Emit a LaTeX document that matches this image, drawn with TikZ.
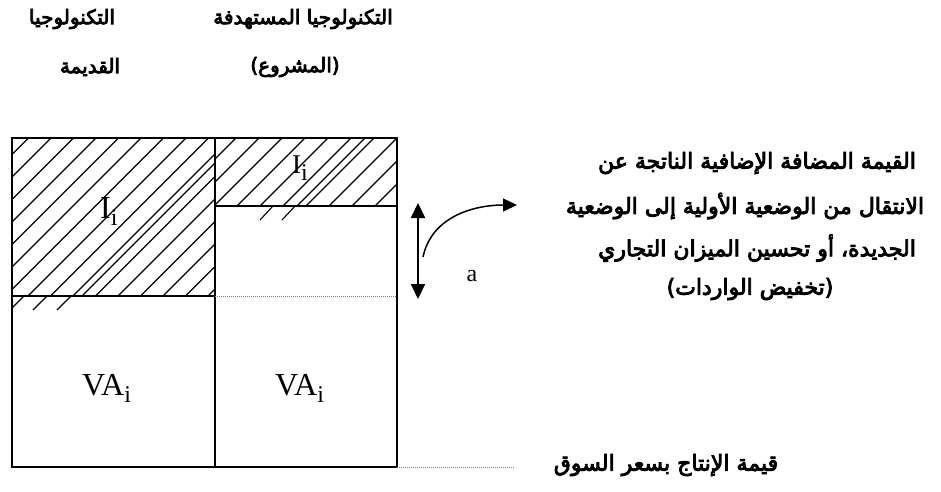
\documentclass[tikz,border=0pt]{standalone}
\usepackage{fontspec}
\usetikzlibrary{arrows.meta}
\TeXXeTstate=1
\newfontfamily\arabicfont[Script=Arabic,FakeBold=4]{DejaVu Sans}
\newfontfamily\latfont{Liberation Serif}
\tikzset{
  boxline/.style={line width=1.4pt},
  hatchline/.style={line width=1.1pt},
  dotline/.style={gray,line width=0.8pt,dash pattern=on 0.8pt off 1.2pt},
  ar/.style={inner sep=0pt,font=\arabicfont\fontsize{22}{26}\selectfont},
  arhead/.style={inner sep=0pt,font=\arabicfont\fontsize{20}{24}\selectfont},
  lat/.style={inner sep=0pt,font=\latfont\fontsize{32}{36}\selectfont},
}
\newcommand{\sub}[1]{\raisebox{-7pt}{\fontsize{24}{26}\selectfont #1}}
\begin{document}
\begin{tikzpicture}[x=1pt,y=-1pt]
\useasboundingbox (0,0) rectangle (941,491);
% hatching left column
\begin{scope}
\clip (12,138) rectangle (215,296);
\foreach \c in {166.5,189,...,520} \draw[hatchline] (\c-138,138) -- (\c-296,296);
\draw[hatchline] (378-138,138) -- (378-296,296);
\end{scope}
\draw[hatchline] (24,296) -- (12,308);
\draw[hatchline] (47,296) -- (33,310);
\draw[hatchline] (71,296) -- (57,310);
% hatching right column
\begin{scope}
\clip (215,138) rectangle (397,206);
\foreach \c in {351,374,...,610} \draw[hatchline] (\c-138,138) -- (\c-206,206);
\draw[hatchline] (503-138,138) -- (503-206,206);
\end{scope}
\draw[hatchline] (273,206) -- (260,220);
\draw[hatchline] (295,206) -- (282,220);
% box
\draw[boxline] (12,138) rectangle (397,467);
\draw[boxline] (215,138) -- (215,467);
\draw[boxline] (12,296) -- (215,296);
\draw[boxline] (215,206) -- (397,206);
\draw[dotline] (215,296) -- (397,296);
\coordinate (bl) at (397,467);
\coordinate (blend) at (515,467);
\draw[dotline] (bl) -- (blend);
% latin labels
\node[lat,anchor=base west] (i1) at (100,218) {I\sub{i}};
\node[lat,anchor=base west,font=\latfont\fontsize{27}{30}\selectfont] (i2) at (292,173) {I\sub{i}};
\node[lat,anchor=base west] (va1) at (82,395) {VA\sub{i}};
\node[lat,anchor=base west] (va2) at (275,395) {VA\sub{i}};
% arrows
\coordinate (at) at (418,203);
\coordinate (ab) at (418,299);
\draw[line width=2pt,{Triangle[length=15pt,width=14pt]}-{Triangle[length=15pt,width=14pt]}] (at) -- (ab);
\coordinate (cs) at (423,257);
\coordinate (ce) at (517,205);
\draw[line width=1.5pt,-{Triangle[length=14pt,width=13pt]}] (cs) to[out=78,in=180] (ce);
\node[inner sep=0pt,font=\latfont\fontsize{24}{26}\selectfont] (a) at (472,276) {a};
% headers
\node[arhead] (h1) at (303,19) {\beginR التكنولوجيا المستهدفة\endR};
\node[arhead] (h2) at (295,67) {\beginR (المشروع)\endR};
\node[arhead] (h3) at (72,19) {\beginR التكنولوجيا\endR};
\node[arhead] (h4) at (90,67) {\beginR القديمة\endR};
% right text
\node[ar] (t1) at (757,163) {\beginR القيمة المضافة الإضافية الناتجة عن\endR};
\node[ar] (t2) at (745,206) {\beginR الانتقال من الوضعية الأولية إلى الوضعية\endR};
\node[ar] (t3) at (757,248) {\beginR الجديدة، أو تحسين الميزان التجاري\endR};
\node[ar] (t4) at (750,289) {\beginR (تخفيض الواردات)\endR};
\node[ar] (t5) at (666,465) {\beginR قيمة الإنتاج بسعر السوق\endR};
\end{tikzpicture}
\end{document}
